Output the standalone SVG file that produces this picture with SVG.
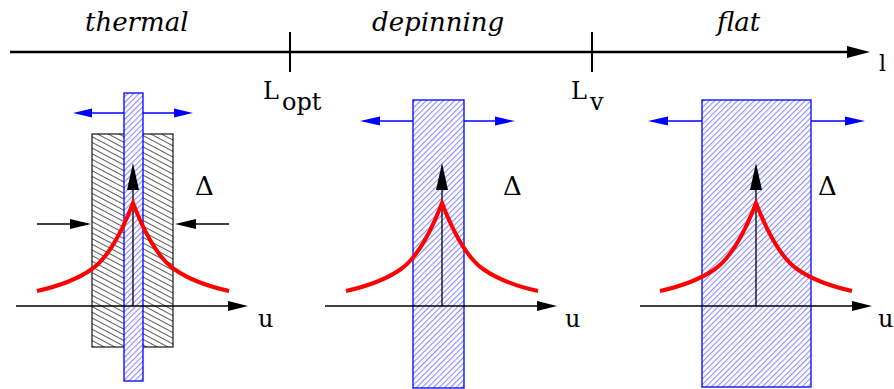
<svg xmlns="http://www.w3.org/2000/svg" width="894" height="389" viewBox="0 0 894 389">
<style>
.ax{stroke:#000;stroke-width:1.3;fill:none}
.blu{stroke:#0000ff;stroke-width:1.3;fill:none}
.red{stroke:#ff0000;stroke-width:4;fill:none;stroke-linejoin:miter}
.hb{fill:url(#hatchBlue);stroke:#0000ff;stroke-width:1.3}
.hg{fill:url(#hatchGray);stroke:#000;stroke-width:1.1}
.t{font-family:"DejaVu Serif","Liberation Serif",serif;fill:#000}
</style>
<defs>
<pattern id="hatchBlue" patternUnits="userSpaceOnUse" width="4" height="4" patternTransform="rotate(-45)">
<rect width="4" height="4" fill="#ffffff"/>
<rect x="0" y="0" width="4" height="1.1" fill="#8c8cff"/>
</pattern>
<pattern id="hatchGray" patternUnits="userSpaceOnUse" width="8" height="5" patternTransform="rotate(28)">
<rect width="8" height="5" fill="#ffffff"/>
<rect x="0" y="2" width="8" height="0.8" fill="#333333"/>
</pattern>
<path id="cusp" d="M-96,88 C-78,84 -58,78 -41,66 C-24,54 -10,26 0,0 C10,26 24,54 41,66 C58,78 78,84 96,88"/>
</defs>

<g id="axis">
<line x1="10" y1="52" x2="850" y2="52" stroke="#000" stroke-width="2.5"/>
<polygon points="847,46 870,52 847,58" fill="#000"/>
<line x1="290" y1="32" x2="290" y2="72" stroke="#000" stroke-width="2"/>
<line x1="592" y1="32" x2="592" y2="72" stroke="#000" stroke-width="2"/>
<text class="t" font-style="italic" x="85" y="31" font-size="26">thermal</text>
<text class="t" font-style="italic" x="372" y="31" font-size="26">depinning</text>
<text class="t" font-style="italic" x="717" y="31" font-size="26">flat</text>
<text class="t" x="263" y="99" font-size="24">L</text>
<text class="t" x="282" y="110" font-size="24">opt</text>
<text class="t" x="571" y="99" font-size="24">L</text>
<text class="t" x="590" y="110" font-size="24">v</text>
<text class="t" x="879" y="71" font-size="22">l</text>
</g>

<g id="panel-thermal">
<rect class="hg" x="92" y="134" width="81" height="213"/>
<line class="blu" x1="90" y1="113" x2="176" y2="113"/>
<polygon points="73,113 92,108.5 92,117.5" fill="#0000ff"/>
<polygon points="193,113 174,108.5 174,117.5" fill="#0000ff"/>
<rect class="hb" x="124" y="93" width="19" height="288"/>
<line class="ax" x1="16" y1="306" x2="230" y2="306"/>
<polygon points="248,306 228,301 228,311" fill="#000"/>
<line class="ax" x1="133" y1="306" x2="133" y2="188"/>
<polygon points="133,163 127,190 139,190" fill="#000"/>
<line class="ax" x1="37" y1="224" x2="72" y2="224"/>
<polygon points="91,224 70,219 70,229" fill="#000"/>
<line class="ax" x1="229" y1="224" x2="194" y2="224"/>
<polygon points="175,224 196,219 196,229" fill="#000"/>
<use href="#cusp" class="red" transform="translate(133,203)"/>
<text class="t" x="195" y="195" font-size="26">Δ</text>
<text class="t" x="258" y="327" font-size="24">u</text>
</g>

<g id="panel-depinning">
<rect class="hb" x="413" y="100" width="51" height="288"/>
<line class="blu" x1="378" y1="121" x2="413" y2="121"/>
<line class="blu" x1="464" y1="121" x2="497" y2="121"/>
<polygon points="360,121 380,116.5 380,125.5" fill="#0000ff"/>
<polygon points="515,121 495,116.5 495,125.5" fill="#0000ff"/>
<line class="ax" x1="325" y1="306" x2="539" y2="306"/>
<polygon points="557,306 537,301 537,311" fill="#000"/>
<line class="ax" x1="442" y1="306" x2="442" y2="188"/>
<polygon points="442,163 436,190 448,190" fill="#000"/>
<use href="#cusp" class="red" transform="translate(442,203)"/>
<text class="t" x="503" y="195" font-size="26">Δ</text>
<text class="t" x="565" y="327" font-size="24">u</text>
</g>

<g id="panel-flat">
<rect class="hb" x="702" y="100" width="109" height="287"/>
<line class="blu" x1="666" y1="121" x2="702" y2="121"/>
<line class="blu" x1="811" y1="121" x2="847" y2="121"/>
<polygon points="648,121 668,116.5 668,125.5" fill="#0000ff"/>
<polygon points="865,121 845,116.5 845,125.5" fill="#0000ff"/>
<line class="ax" x1="640" y1="306" x2="854" y2="306"/>
<polygon points="872,306 852,301 852,311" fill="#000"/>
<line class="ax" x1="756" y1="306" x2="756" y2="188"/>
<polygon points="756,163 750,190 762,190" fill="#000"/>
<use href="#cusp" class="red" transform="translate(756,203)"/>
<text class="t" x="818" y="195" font-size="26">Δ</text>
<text class="t" x="878" y="327" font-size="24">u</text>
</g>
</svg>
